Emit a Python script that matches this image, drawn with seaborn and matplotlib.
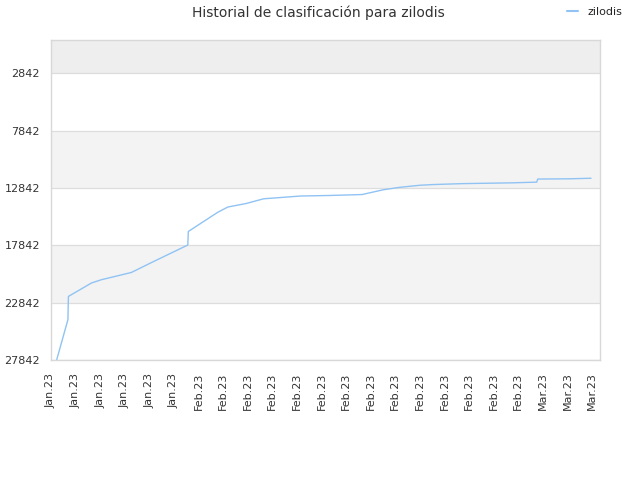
import matplotlib
matplotlib.use("Agg")
import matplotlib.pyplot as plt
import matplotlib.dates as mdates
import seaborn as sns
import pandas as pd

dates = [
    "2023-01-21 11:00", "2023-01-22 09:00", "2023-01-22 10:00", "2023-01-24 07:00",
    "2023-01-25 02:00", "2023-01-27 13:00", "2023-01-29 04:00", "2023-02-01 03:00",
    "2023-02-01 04:00", "2023-02-03 13:00", "2023-02-04 09:00", "2023-02-05 21:00",
    "2023-02-07 07:00", "2023-02-10 07:00", "2023-02-12 17:00", "2023-02-15 07:00",
    "2023-02-17 00:00", "2023-02-18 07:00", "2023-02-20 00:00", "2023-02-21 02:00",
    "2023-02-23 10:00", "2023-02-27 12:00", "2023-03-01 12:00", "2023-03-01 14:00",
    "2023-03-04 02:00", "2023-03-05 22:00",
]
ranks = [
    27842, 24330, 22300, 21130,
    20850, 20210, 19350, 17820,
    16640, 14980, 14510, 14200,
    13790, 13550, 13500, 13420,
    13010, 12800, 12610, 12550,
    12470, 12400, 12340, 12070,
    12050, 12000,
]
y_ticks = [2842, 7842, 12842, 17842, 22842, 27842]
series_name = "zilodis"
title = "Historial de clasificación para zilodis"

df = pd.DataFrame({"fecha": pd.to_datetime(dates), "rank": ranks, "serie": series_name})

sns.set_style("white")
plt.rcParams["font.family"] = ["DejaVu Sans"]

fig = plt.figure(figsize=(6.4, 4.8), dpi=100)
ax = fig.add_axes([51 / 640, 1 - 360 / 480, (600 - 51) / 640, (360 - 40) / 480])

line_color = "#90c3f3"
sns.lineplot(data=df, x="fecha", y="rank", hue="serie", palette=[line_color],
             ax=ax, linewidth=1, legend=False)

ymin, ymax = -50, 27842
# alternating bands
ax.axhspan(ymin, y_ticks[0], color="#eeeeee", zorder=0, lw=0)
ax.axhspan(y_ticks[1], y_ticks[2], color="#f3f3f3", zorder=0, lw=0)
ax.axhspan(y_ticks[3], y_ticks[4], color="#f3f3f3", zorder=0, lw=0)
for t in y_ticks:
    ax.axhline(t, color="#dddddd", lw=0.9, zorder=1)

ax.set_ylim(ymax, ymin)
ax.set_yticks(y_ticks)
ax.set_yticklabels([str(t) for t in y_ticks])

x_ticks = pd.date_range("2023-01-21", periods=23, freq="2D")
ax.set_xlim(pd.Timestamp("2023-01-21 03:00"), pd.Timestamp("2023-03-06 15:30"))
ax.set_xticks(x_ticks)
ax.xaxis.set_major_formatter(mdates.DateFormatter("%b.%y"))
plt.setp(ax.get_xticklabels(), rotation=90, ha="center")

ax.tick_params(axis="both", labelsize=8, colors="#333333", length=0)
ax.tick_params(axis="x", pad=9)
ax.tick_params(axis="y", pad=8)
ax.set_xlabel("")
ax.set_ylabel("")
for s in ax.spines.values():
    s.set_color("#d8d8d8")
    s.set_linewidth(1)

fig.text(0.497, 1 - 13 / 480, title, ha="center", va="center", fontsize=10, color="#333333")

# legend
from matplotlib.lines import Line2D
handle = Line2D([0], [0], color=line_color, lw=1.5)
fig.legend([handle], [series_name], loc="center right", bbox_to_anchor=(632 / 640, 1 - 12 / 480),
           frameon=False, fontsize=8, handlelength=1.0, handletextpad=0.8)

fig.savefig("out.png", dpi=100)
